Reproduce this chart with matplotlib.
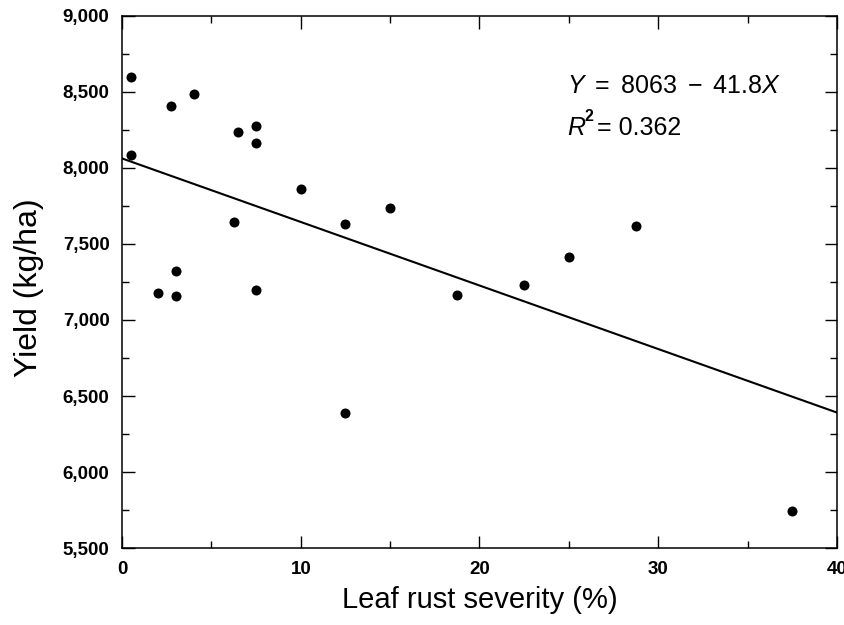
import matplotlib
matplotlib.use("Agg")
import matplotlib.pyplot as plt
from matplotlib.ticker import MultipleLocator, FuncFormatter
from matplotlib.transforms import offset_copy
import numpy as np

plt.rcParams['font.family'] = ['Liberation Sans', 'DejaVu Sans']
plt.rcParams['mathtext.fontset'] = 'custom'
plt.rcParams['mathtext.rm'] = 'Liberation Sans'
plt.rcParams['mathtext.it'] = 'Liberation Sans:italic'
plt.rcParams['mathtext.bf'] = 'Liberation Sans:bold'
plt.rcParams['xtick.labelsize'] = 13.5
plt.rcParams['ytick.labelsize'] = 13.5

# Data
severity = [0.5, 0.5, 2.75, 4.0, 6.5, 7.5, 7.5, 10.0, 6.25, 12.5, 15.0,
            3.0, 2.0, 3.0, 7.5, 18.75, 22.5, 25.0, 28.75, 12.5, 37.5]
yield_kg = [8600, 8085, 8410, 8490, 8235, 8275, 8165, 7860, 7645, 7630, 7740,
            7320, 7175, 7160, 7200, 7165, 7230, 7415, 7620, 6385, 5745]

intercept = 8063
slope = -41.8
r2 = 0.362

x_ticks = [0, 10, 20, 30, 40]

fig = plt.figure(figsize=(8.45, 6.25), dpi=100)
ax = fig.add_axes([0.1444, 0.1232, 0.8461, 0.8512])

ax.scatter(severity, yield_kg, s=52, color='black', zorder=3, linewidths=0)

xl = np.array([0, 40])
ax.plot(xl, intercept + slope * xl, color='black', lw=1.5)

ax.set_xlim(0, 40)
ax.set_ylim(5500, 9000)
ax.set_xticks(x_ticks)
ax.xaxis.set_minor_locator(MultipleLocator(5))
ax.yaxis.set_major_locator(MultipleLocator(500))
ax.yaxis.set_minor_locator(MultipleLocator(250))
ax.yaxis.set_major_formatter(FuncFormatter(lambda v, p: f"{int(v):,}"))

ax.tick_params(which='both', direction='in', top=True, right=True, width=1.0,
               color='black')
ax.tick_params(which='major', length=9, pad=9.0)
ax.tick_params(which='minor', length=5)

for sp in ax.spines.values():
    sp.set_linewidth(1.1)

ax.set_xlabel('Leaf rust severity (%)', fontsize=21, labelpad=6)
ax.set_ylabel('Yield (kg/ha)', fontsize=23)
ax.yaxis.set_label_coords(-0.109, 0.489)

eq_x = 24.9
ax.text(eq_x, 8493, r'$\mathit{Y}\ =\ 8063\ -\ 41.8\mathit{X}$', fontsize=18,
        va='baseline', ha='left')
ax.text(eq_x, 8217, r'$\mathit{R}$', fontsize=18, va='baseline', ha='left')
ax.text(eq_x, 8217, '2', fontsize=11.5, fontweight='bold', va='baseline',
        ha='left',
        transform=offset_copy(ax.transData, fig=fig, x=12.8, y=10.0, units='points'))
ax.text(eq_x, 8217, f'= {r2:.3f}', fontsize=18, va='baseline', ha='left',
        transform=offset_copy(ax.transData, fig=fig, x=21.8, y=0, units='points'))

fig.canvas.draw()
for lab in ax.get_xticklabels() + ax.get_yticklabels():
    lab.set_fontweight('bold')

fig.savefig('out.png', dpi=100)
